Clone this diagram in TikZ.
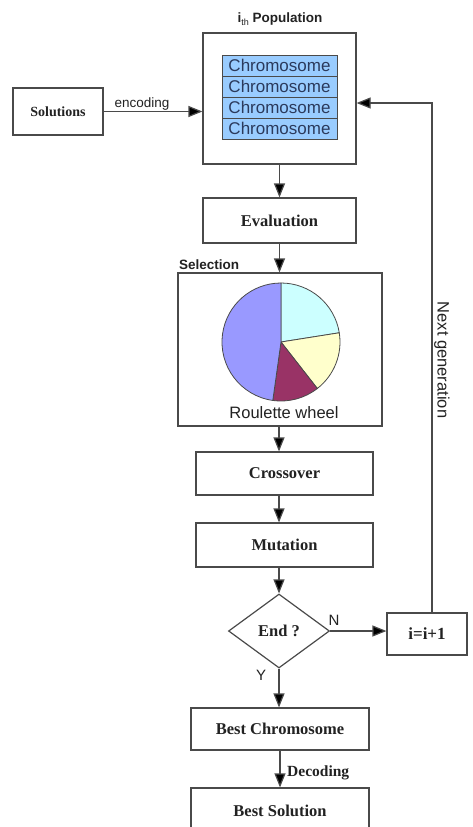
\documentclass[tikz,border=0pt]{standalone}
\usepackage{fontspec}
\setmainfont{Liberation Serif}
\setsansfont{Liberation Sans}
\usetikzlibrary{arrows.meta,shapes.geometric}
\definecolor{linegray}{HTML}{4A4A4A}
\definecolor{chromo}{HTML}{99CCFF}
\definecolor{chromotext}{HTML}{2B3A5C}
\definecolor{pielav}{HTML}{9999FF}
\definecolor{piecyan}{HTML}{CCFFFF}
\definecolor{pieyel}{HTML}{FFFFCC}
\definecolor{piemar}{HTML}{993366}
\definecolor{txt}{HTML}{222222}
\begin{document}
\begin{tikzpicture}[x=1pt,y=-1pt,
  box/.style={draw=linegray,line width=1.2pt,fill=white,inner sep=0pt,text=txt,
    font=\fontsize{16.5}{18}\selectfont\bfseries},
  chrom/.style={draw=linegray,line width=1pt,fill=chromo,inner sep=0pt,text=chromotext,
    minimum width=115pt,minimum height=21pt,font=\sffamily\fontsize{17}{18}\selectfont},
  arr/.style={draw=linegray,line width=1.2pt,-{Triangle[length=14pt,width=11pt,fill=black]}},
  lab/.style={text=txt,inner sep=0pt,font=\sffamily\fontsize{15}{17}\selectfont},
  blab/.style={text=txt,inner sep=0pt,font=\sffamily\bfseries\fontsize{13.5}{15}\selectfont},
  slice/.style={draw=linegray,line width=0.8pt}]
\clip (0,0) rectangle (472,827);
\useasboundingbox (0,0) rectangle (472,827);
\fill[white] (0,0) rectangle (472,827);

% population
\node[box,minimum width=153pt,minimum height=131pt] (pop) at (279.5,98.5) {};
\node[chrom] (c1) at (279.5,65.5) {Chromosome};
\node[chrom] (c2) at (279.5,86.5) {Chromosome};
\node[chrom] (c3) at (279.5,107.5) {Chromosome};
\node[chrom] (c4) at (279.5,128.5) {Chromosome};
\node[blab] (title) at (280,19) {i\raisebox{-3pt}{\mdseries\fontsize{9}{9}\selectfont th} Population};

\node[box,minimum width=90pt,minimum height=47pt,font=\fontsize{14}{16}\selectfont\bfseries] (sol) at (58,111.5) {Solutions};
\node[lab,font=\sffamily\fontsize{13.5}{15}\selectfont] (enc) at (142,104) {encoding};

\node[box,minimum width=153pt,minimum height=45pt] (eval) at (279.5,220.5) {Evaluation};

% selection
\node[box,minimum width=204pt,minimum height=153pt] (sel) at (280,349.5) {};
\node[blab,anchor=west] (seltitle) at (179,265) {Selection};
\begin{scope}[shift={(281,342)},yscale=-1]
  \filldraw[slice,fill=piecyan] (0,0) -- (90:59) arc[start angle=90,end angle=9,radius=59] -- cycle;
  \filldraw[slice,fill=pieyel] (0,0) -- (9:59) arc[start angle=9,end angle=-52,radius=59] -- cycle;
  \filldraw[slice,fill=piemar] (0,0) -- (-52:59) arc[start angle=-52,end angle=-98,radius=59] -- cycle;
  \filldraw[slice,fill=pielav] (0,0) -- (-98:59) arc[start angle=-98,end angle=-270,radius=59] -- cycle;
\end{scope}
\node[lab,font=\sffamily\fontsize{16.5}{18}\selectfont] (roul) at (284,413) {Roulette wheel};

\node[box,minimum width=177pt,minimum height=43pt] (cross) at (284.5,473.5) {Crossover};
\node[box,minimum width=177pt,minimum height=44pt] (mut) at (284.5,545) {Mutation};
\node[box,diamond,minimum width=101pt,minimum height=74pt,aspect=1.36] (dia) at (279,631) {End ?};
\node[box,minimum width=80pt,minimum height=42pt,font=\fontsize{17}{18}\selectfont\bfseries] (inc) at (427,634) {i=i+1};
\node[box,minimum width=178pt,minimum height=42pt] (bc) at (280,729) {Best Chromosome};
\node[box,minimum width=178pt,minimum height=46pt] (bs) at (280,811) {Best Solution};

\node[lab] (nlab) at (334,620) {N};
\node[lab] (ylab) at (261,675) {Y};
\node[text=txt,inner sep=0pt,anchor=west,font=\fontsize{15.5}{17}\selectfont\bfseries] (dec) at (287,773) {Decoding};
\node[lab,rotate=-90,font=\sffamily\fontsize{16.5}{18}\selectfont] (next) at (442,360) {Next generation};

% connectors
\draw[arr] (sol.east) -- (sol.east -| pop.west);
\draw[arr] (pop.south) -- (pop.south |- eval.north);
\draw[arr] (eval.south) -- (eval.south |- sel.north);
\draw[arr] (dia.north |- sel.south) -- (dia.north |- cross.north);
\draw[arr] (dia.north |- cross.south) -- (dia.north |- mut.north);
\draw[arr] (dia.north |- mut.south) -- (dia.north);
\draw[arr] (dia.east) -- (dia.east -| inc.west);
\draw[arr] (dia.south) -- (dia.south |- bc.north);
\draw[arr] (bc.south) -- (bc.south |- bs.north);
\coordinate (fb) at (432,103);
\draw[arr] (inc.north -| fb) -- (fb) -- (fb -| pop.east);
\end{tikzpicture}
\end{document}
